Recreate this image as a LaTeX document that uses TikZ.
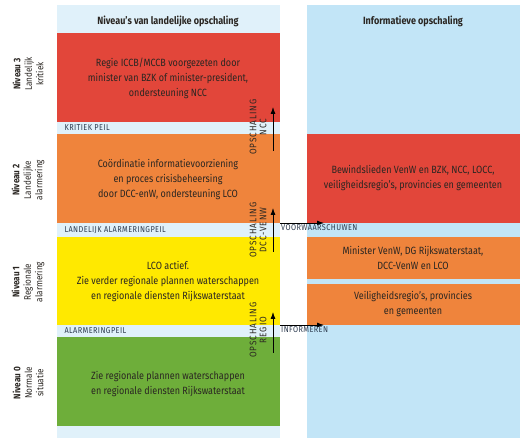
\documentclass[tikz,border=0pt]{standalone}
\usepackage{fontspec}
\setmainfont{Fira Sans}[FakeStretch=0.86]
\usetikzlibrary{arrows.meta}
\definecolor{rood}{HTML}{E2463A}
\definecolor{oranje}{HTML}{EF843C}
\definecolor{geel}{HTML}{FFE900}
\definecolor{groen}{HTML}{6EAE3A}
\definecolor{lichtblauw}{HTML}{E0F1FA}
\definecolor{blauw}{HTML}{C2E5F7}
\definecolor{tekst}{HTML}{2A2622}
\definecolor{peiltekst}{HTML}{2C3A4E}
\tikzset{
  band/.style={align=center,text=tekst,font=\fontsize{10.5}{15}\selectfont},
  kop/.style={band,font=\fontsize{10.5}{15}\selectfont\bfseries},
  peil/.style={anchor=west,text=peiltekst,font=\fontsize{8.5}{9}\selectfont\addfontfeature{LetterSpace=5}},
  niveau/.style={rotate=90,align=center,text=tekst,font=\fontsize{9.5}{11.5}\selectfont},
  opschaling/.style={rotate=90,align=center,text=tekst,font=\fontsize{9.5}{10}\selectfont\addfontfeature{LetterSpace=10}},
  pijl/.style={-{Latex[length=7pt,width=5pt]},thick,black}
}
\begin{document}
\begin{tikzpicture}[x=1pt,y=-1pt]
  \useasboundingbox (0,0) rectangle (520,438);
  % achtergrond
  \fill[lichtblauw] (57,5) rectangle (280,438);
  \fill[blauw] (307,5) rectangle (520,438);
  % niveaus links
  \fill[rood] (57,33) rectangle (280,122);
  \fill[oranje] (57,134) rectangle (280,223);
  \fill[geel] (57,237) rectangle (280,325);
  \fill[groen] (57,337) rectangle (280,426);
  % boxen rechts
  \fill[rood] (307,134) rectangle (520,223);
  \fill[oranje] (307,237) rectangle (520,279);
  \fill[oranje] (307,284) rectangle (520,325);

  \node[kop] (koplinks) at (168,21) {Niveau's van landelijke opschaling};
  \node[kop] (koprechts) at (413,21) {Informatieve opschaling};

  \node[band] (tekst3) at (168,78) {Regie ICCB/MCCB voorgezeten door\\minister van BZK of minister-president,\\ondersteuning NCC};
  \node[band] (tekst2) at (168,180) {Coördinatie informatievoorziening\\en proces crisisbeheersing\\door DCC-enW, ondersteuning LCO};
  \node[band] (tekst1) at (168,282) {LCO actief.\\Zie verder regionale plannen waterschappen\\en regionale diensten Rijkswaterstaat};
  \node[band] (tekst0) at (168,384) {Zie regionale plannen waterschappen\\en regionale diensten Rijkswaterstaat};

  \node[peil] (kritiek) at (61,128) {KRITIEK PEIL};
  \node[peil] (landelijk) at (61,230) {LANDELIJK ALARMERINGPEIL};
  \node[peil] (alarmering) at (61,331) {ALARMERINGPEIL};

  \node[niveau] (niveau3) at (28,74) {\textbf{Niveau 3}\\Landelijk\\kritiek};
  \node[niveau] (niveau2) at (28,180) {\textbf{Niveau 2}\\Landelijke\\alarmering};
  \node[niveau] (niveau1) at (28,282) {\textbf{Niveau 1}\\Regionale\\alarmering};
  \node[niveau] (niveau0) at (28,383) {\textbf{Niveau 0}\\Normale\\situatie};

  \node[band] (informatie3) at (413,178) {Bewindslieden VenW en BZK, NCC, LOCC,\\veiligheidsregio's, provincies en gemeenten};
  \node[band] (informatie2) at (413,258) {Minister VenW, DG Rijkswaterstaat,\\DCC-VenW en LCO};
  \node[band] (informatie1) at (413,304) {Veiligheidsregio's, provincies\\en gemeenten};

  % opschaling
  \node[opschaling] (ncc) at (258,127) {OPSCHALING\\NCC};
  \node[opschaling] (dcc) at (258,230) {OPSCHALING\\DCC-VENW};
  \node[opschaling] (regio) at (258,330) {OPSCHALING\\REGIO};
  \coordinate (ncc van) at (273,151);
  \coordinate (ncc naar) at (273,107);
  \coordinate (dcc van) at (273,252);
  \coordinate (dcc naar) at (273,208);
  \coordinate (regio van) at (273,353);
  \coordinate (regio naar) at (273,312);
  \draw[pijl] (ncc van) -- (ncc naar);
  \draw[pijl] (dcc van) -- (dcc naar);
  \draw[pijl] (regio van) -- (regio naar);

  % informeren
  \coordinate (voor van) at (280,223);
  \coordinate (voor naar) at (324,223);
  \coordinate (info van) at (280,325);
  \coordinate (info naar) at (324,325);
  \draw[pijl] (voor van) -- (voor naar);
  \draw[pijl] (info van) -- (info naar);
  \node[peil,anchor=north west,inner sep=1pt] (voorwaarschuwen) at (voor van) {VOORWAARSCHUWEN};
  \node[peil,anchor=north west,inner sep=1pt] (informeren) at (info van) {INFORMEREN};
\end{tikzpicture}
\end{document}
